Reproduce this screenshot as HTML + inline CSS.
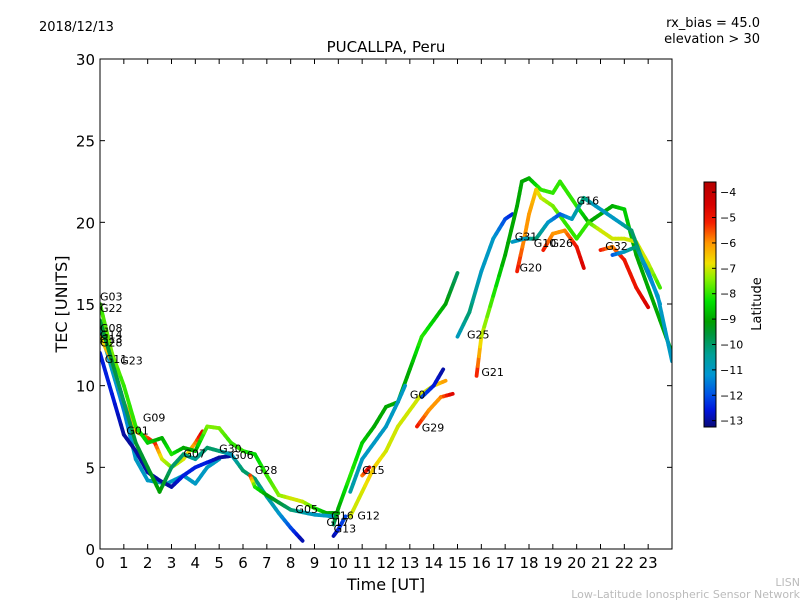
<!DOCTYPE html>
<html><head><meta charset="utf-8"><style>
body{margin:0;background:#fff;width:800px;height:600px;overflow:hidden}
svg{font-family:"DejaVu Sans","Liberation Sans",sans-serif}
</style></head><body>
<svg id="c" width="800" height="600" xmlns="http://www.w3.org/2000/svg">
<text x="39" y="31" font-size="13">2018/12/13</text>
<text x="760" y="27" font-size="13" text-anchor="end">rx_bias = 45.0</text>
<text x="760" y="43" font-size="13" text-anchor="end">elevation &gt; 30</text>
<text x="386" y="52" font-size="15" text-anchor="middle">PUCALLPA, Peru</text>
<text x="386" y="590" font-size="16" text-anchor="middle">Time [UT]</text>
<text transform="translate(67,304) rotate(-90)" font-size="16" text-anchor="middle">TEC [UNITS]</text>
<text transform="translate(761,304) rotate(-90)" font-size="13" text-anchor="middle">Latitude</text>
<text x="800" y="586" font-size="11" fill="#bbb" text-anchor="end">LISN</text>
<text x="800" y="598" font-size="11" fill="#bbb" text-anchor="end">Low-Latitude Ionospheric Sensor Network</text>
<g id="plot"></g>
</svg>
<script>
const xTicks=[0,1,2,3,4,5,6,7,8,9,10,11,12,13,14,15,16,17,18,19,20,21,22,23];
const yTicks=[0,5,10,15,20,25,30];
const cbTicks=[-4,-5,-6,-7,-8,-9,-10,-11,-12,-13];
const satNames=["G03","G22","G08","G14","G13","G28","G11","G23","G09","G01","G07","G30","G06","G28","G05","G16","G17","G13","G12","G15","G29","G0","G21","G25","G20","G31","G10","G26","G16","G32"];
const labelTimes=[0,0,0,0,0,0,0.2,0.85,1.8,1.1,3.5,5.0,5.5,6.5,8.2,9.7,9.5,9.8,10.8,11.0,13.5,13.0,16.0,15.4,17.6,17.4,18.2,18.9,20.0,21.2];
const labelTec=[15.2,14.5,13.3,12.9,12.6,12.4,11.4,11.3,7.8,7.0,5.6,5.9,5.5,4.6,2.2,1.8,1.4,1.0,1.8,4.6,7.2,9.2,10.6,12.9,17.0,18.9,18.5,18.5,21.1,18.3];
const tracks=[
[[0,13.5,-11],[0.5,11,-11],[1,8.5,-11.5],[1.5,5.5,-11],[2,4.2,-11],[2.8,4,-11],[3.5,4.5,-11],[4,4,-11],[4.5,5,-11],[5,5.5,-11]],
[[0,12,-12.5],[0.5,9.5,-12.5],[1,7,-13],[1.5,6,-13],[2,4.7,-13],[2.5,4.2,-13],[3,3.8,-13],[3.5,4.5,-12.5],[4,5,-12.5],[4.5,5.3,-12.5],[5,5.6,-13],[5.5,5.7,-13]],
[[0,13,-7],[0.5,11.5,-6],[1,9,-6],[1.5,7.2,-6.5],[2,6.8,-5.5],[2.3,6.5,-5],[2.6,5.5,-7],[3,5,-7.5],[3.5,5.5,-7],[4,6.5,-6],[4.3,7.2,-4.5]],
[[0,15,-8],[0.5,12,-7.5],[1,10,-8],[1.5,7.5,-8],[2,6.5,-8.5],[2.6,6.8,-9],[3,5.8,-8],[3.5,6.2,-9],[4,6,-9],[4.5,7.5,-7.5],[5,7.4,-7.5],[5.5,6.5,-8],[6,6,-8],[6.5,5.8,-8.5],[7,4.5,-8],[7.5,3.3,-7.5],[8,3.1,-7],[8.5,2.9,-7],[9,2.5,-8],[9.5,2.2,-9],[10,2.2,-9]],
[[0,14,-9.5],[0.5,11.5,-9.5],[1,9,-10],[1.5,6.5,-9.5],[2,5,-9.5],[2.5,3.5,-9],[3,5,-10],[3.5,5.8,-10],[4,5.5,-10.5],[4.5,6.2,-10],[5,6,-10],[5.5,5.8,-11],[6,4.8,-10],[6.5,4.3,-10],[7,3.2,-10.5],[7.5,2.2,-11],[8,1.3,-12],[8.5,0.5,-13]],
[[6.3,4.5,-5],[6.5,3.8,-8],[7,3.3,-9],[8,2.4,-10],[9,2.1,-11],[9.8,2,-11]],
[[9.8,1.5,-10],[10,2.5,-9],[10.5,4.5,-8],[11,6.5,-8.5],[11.5,7.5,-9],[12,8.7,-9],[12.5,9,-9],[13,11,-9],[13.5,13,-8],[14,14,-8.5],[14.5,15,-9],[15,16.9,-10]],
[[10.5,3.5,-10.5],[11,5.5,-11],[11.5,6.5,-11],[12,7.5,-11],[12.5,9,-11],[12.8,10,-11]],
[[10.5,2,-7],[11,3.5,-7],[11.5,5,-6.5],[12,6,-7],[12.5,7.5,-7],[13,8.5,-7],[13.5,9.5,-7],[14,10,-7],[14.5,10.3,-6]],
[[9.8,0.8,-13],[10,1.2,-12.5],[10.3,2,-12]],
[[11,4.5,-6],[11.3,5,-4.5]],
[[13.3,7.5,-5],[13.8,8.5,-6],[14.3,9.3,-6],[14.8,9.5,-4.5]],
[[13.5,9.3,-12],[14,10,-12.5],[14.4,11,-13]],
[[15,13,-11],[15.5,14.5,-10],[16,17,-11],[16.5,19,-11],[17,20.2,-12],[17.3,20.5,-12.5]],
[[15.8,10.6,-5],[16,13,-7],[16.5,15.5,-8],[17,18,-9],[17.5,21,-9],[17.7,22.5,-9],[18,22.7,-9],[18.5,22,-8],[19,21.8,-8],[19.3,22.5,-8],[20,21,-8],[20.5,20,-9],[21,20.5,-9],[21.5,21,-9],[22,20.8,-8.5],[22.5,18,-9],[23,16,-9],[24,12,-9]],
[[17.5,17,-5],[17.8,19,-6],[18,20.5,-6],[18.3,22,-6.5],[18.5,21.5,-7],[19,21,-7.5],[19.5,20,-8],[20,19,-8],[20.5,20,-8],[21,19.5,-7],[21.5,19,-7],[22,19,-7],[22.5,18.8,-7],[23,17.5,-7],[23.5,16,-8]],
[[17.3,18.8,-11],[17.8,19,-11],[18.3,19,-10],[18.8,20,-11],[19.3,20.5,-12],[19.8,20.2,-11],[20.3,21.5,-10],[20.8,21,-11],[21.3,20.5,-11],[21.8,20,-11],[22.3,19.5,-10],[22.8,17.5,-10],[23.4,15.5,-11],[24,11.5,-11]],
[[18.6,18.3,-5],[19,19.3,-6],[19.5,19.5,-6],[20,18.5,-5],[20.3,17.2,-4.5]],
[[21,18.3,-5],[21.5,18.5,-6],[22,17.7,-5],[22.5,16,-5],[23,14.8,-4.5]],
[[21.5,18,-12],[22,18.2,-11],[22.5,18.5,-10],[23,17,-11.5],[23.5,15,-11]]
];
const L=100,R=672,T=59,B=549,X0=0,X1=24.0,Y0=0,Y1=30,CL=-13.25,CH=-3.6;
const sx=v=>L+(v-X0)/(X1-X0)*(R-L), sy=v=>B-(v-Y0)/(Y1-Y0)*(B-T);
const cbT=182,cbB=427,cbX=704,cbW=12;
const cy=v=>cbB-(v-CL)/(CH-CL)*(cbB-cbT);
const stops=[[-13.25,[10,10,120]],[-12.6,[0,20,220]],[-12,[0,80,230]],[-11.2,[0,150,210]],[-10.4,[0,160,150]],[-9.6,[0,150,60]],[-9.1,[0,160,0]],[-8.3,[0,225,0]],[-7.4,[140,240,0]],[-6.8,[240,225,0]],[-6,[255,150,0]],[-5.2,[245,30,0]],[-4.5,[215,0,0]],[-3.6,[180,0,0]]];
function jet(v){if(v<=stops[0][0])return 'rgb('+stops[0][1]+')';
for(let i=0;i<stops.length-1;i++){const a=stops[i],b=stops[i+1];if(v<=b[0]){const t=(v-a[0])/(b[0]-a[0]);
return 'rgb('+a[1].map((c,k)=>Math.round(c+(b[1][k]-c)*t)).join(',')+')';}}
return 'rgb('+stops[stops.length-1][1]+')';}
const NS="http://www.w3.org/2000/svg",g=document.getElementById('plot');
function mk(tag,at,p){const e=document.createElementNS(NS,tag);for(const k in at)e.setAttribute(k,at[k]);(p||g).appendChild(e);return e;}
const clip=mk('clipPath',{id:'cp'});mk('rect',{x:L,y:T,width:R-L,height:B-T},clip);
const lines=mk('g',{'clip-path':'url(#cp)'});


tracks.forEach((tr,i)=>{for(let j=0;j<tr.length-1;j++){const a=tr[j],b=tr[j+1];
const n=4;for(let k=0;k<n;k++){const u0=k/n,u1=(k+1)/n;
const s=mk('line',{x1:sx(a[0]+(b[0]-a[0])*u0),y1:sy(a[1]+(b[1]-a[1])*u0),x2:sx(a[0]+(b[0]-a[0])*u1),y2:sy(a[1]+(b[1]-a[1])*u1),stroke:jet(a[2]+(b[2]-a[2])*(u0+u1)/2),'stroke-width':3.8,'stroke-linecap':'round'},lines);

}}});
satNames.forEach((n,i)=>{const t=mk('text',{x:sx(labelTimes[i]),y:sy(labelTec[i]),'font-size':11});t.textContent=n;

});
const fr=mk('rect',{x:L,y:T,width:R-L,height:B-T,fill:'none',stroke:'#000','stroke-width':1});


xTicks.forEach(v=>{const x=sx(v);mk('line',{x1:x,x2:x,y1:B,y2:B-5,stroke:'#000'});mk('line',{x1:x,x2:x,y1:T,y2:T+5,stroke:'#000'});
const t=mk('text',{x:x,y:B+19,'font-size':15,'text-anchor':'middle'});t.textContent=v;

});
yTicks.forEach(v=>{const y=sy(v);mk('line',{x1:L,x2:L+5,y1:y,y2:y,stroke:'#000'});mk('line',{x1:R,x2:R-5,y1:y,y2:y,stroke:'#000'});
const t=mk('text',{x:L-5,y:y+6,'font-size':15,'text-anchor':'end'});t.textContent=v;

});
const cb=mk('g',{});


for(let y=cbT;y<cbB;y++){const v=CL+(cbB-y-0.5)/(cbB-cbT)*(CH-CL);mk('rect',{x:cbX,y:y,width:cbW,height:1.2,fill:jet(v)},cb);}
mk('rect',{x:cbX,y:cbT,width:cbW,height:cbB-cbT,fill:'none',stroke:'#000'},cb);
cbTicks.forEach(v=>{const y=cy(v);mk('line',{x1:cbX+cbW-4,x2:cbX+cbW,y1:y,y2:y,stroke:'#000'},cb);
const t=mk('text',{x:cbX+cbW+4,y:y+4,'font-size':11},cb);t.textContent='\u2212'+Math.abs(v);

});
</script>
</body></html>
